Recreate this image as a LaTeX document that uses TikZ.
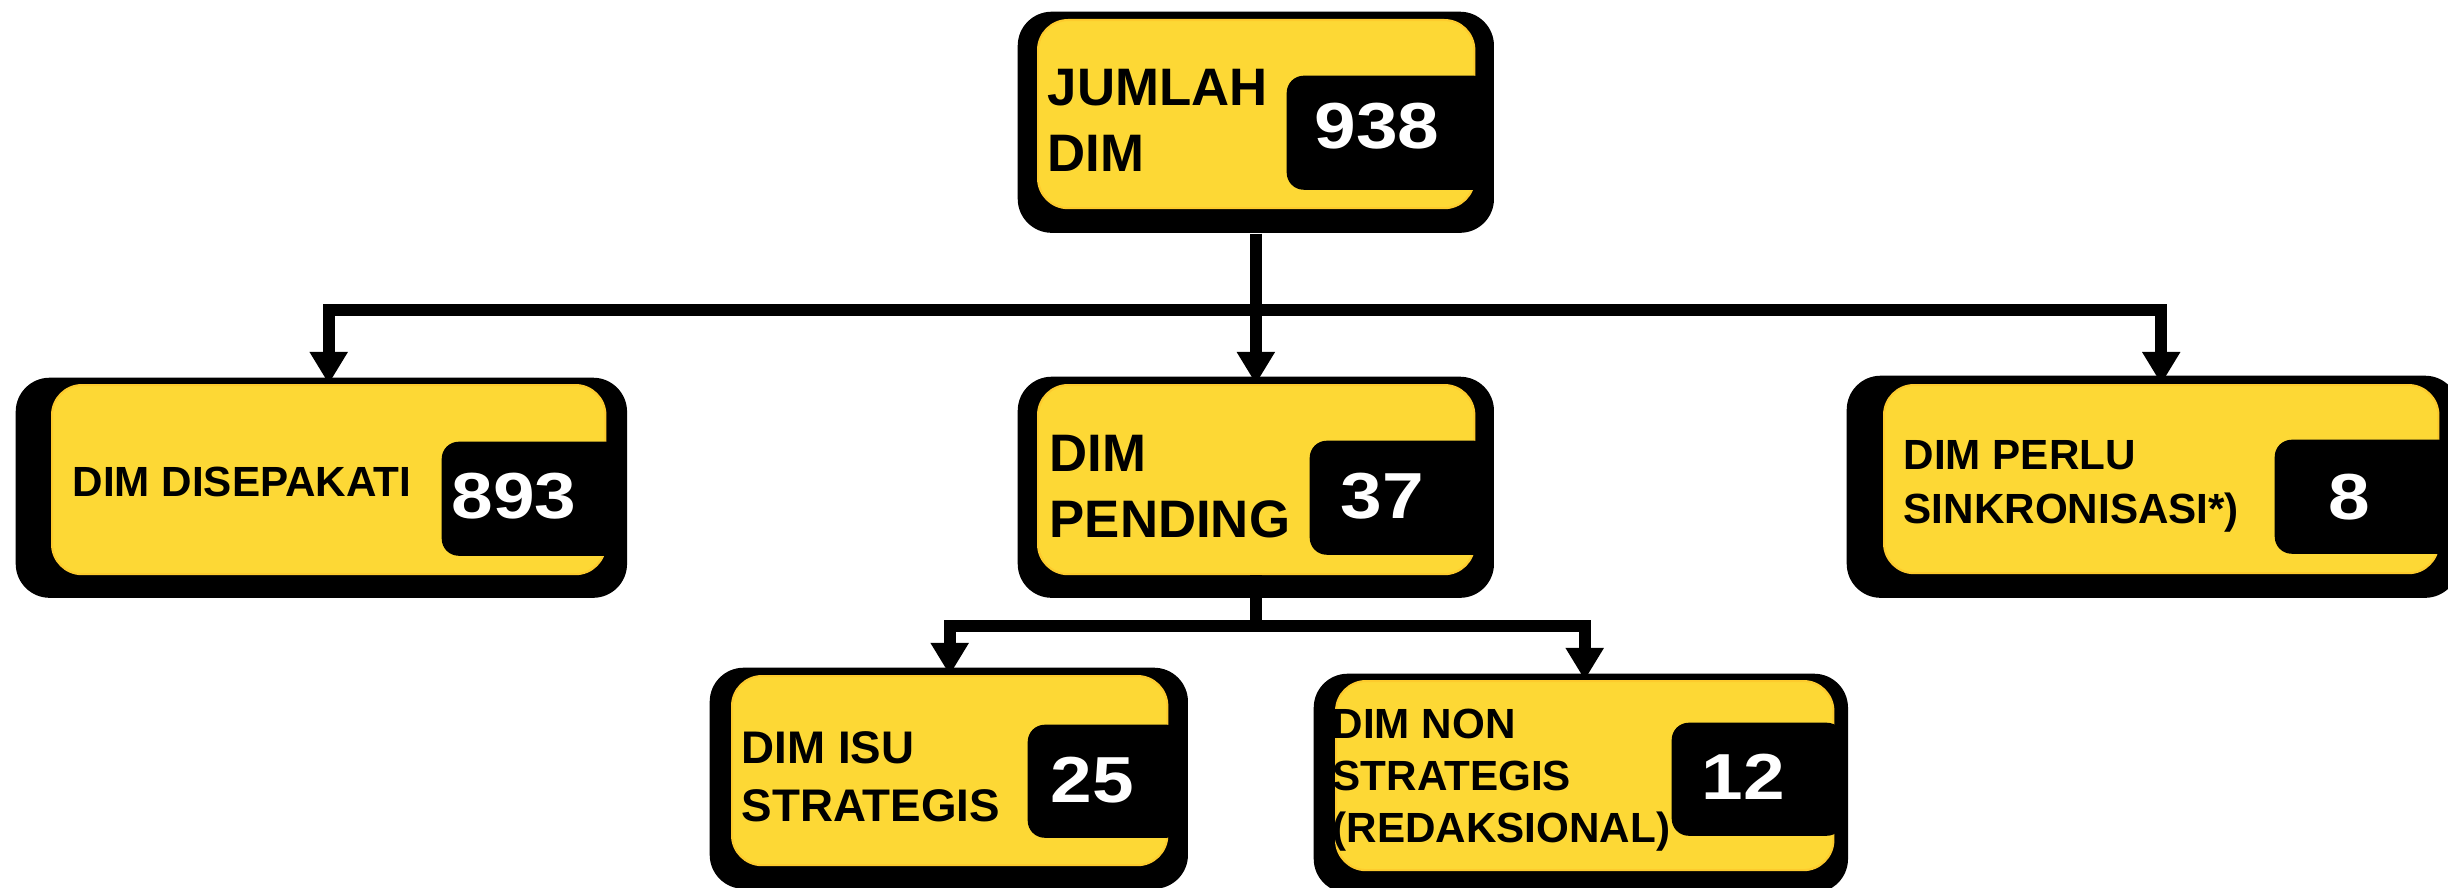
\documentclass[tikz,border=0pt]{standalone}
\usepackage{fontspec}
\setmainfont{Liberation Sans}
\newfontfamily\numfont[FakeStretch=1.15]{Liberation Sans}
\usepackage{xcolor}
\definecolor{kuning}{HTML}{FDD835}
\usepackage{tikz}
\usetikzlibrary{arrows.meta}

\begin{document}
\begin{tikzpicture}[
  x=0.01cm, y=-0.01cm,
  kotak/.style={rectangle, rounded corners=0.34cm, fill=black, inner sep=0pt, anchor=north west},
  dalam/.style={rectangle, rounded corners=0.3cm, fill=kuning, draw=kuning!85!orange, line width=0.6pt, inner sep=0pt, anchor=north west},
  blok/.style={rectangle, rounded corners=0.17cm, fill=black, inner sep=0pt, anchor=north west},
  teks/.style={anchor=west, align=left, inner sep=0pt},
  angka/.style={text=white, inner sep=0pt, font=\numfont\fontsize{18.5}{20}\selectfont\bfseries},
  garis/.style={line width=0.12cm},
  panah/.style={garis, -{Triangle[length=0.32cm, width=0.36cm]}}
]
\useasboundingbox (0,0) rectangle (2448,888);
\node[kotak, minimum width=4.76cm, minimum height=2.21cm] (jml) at (1017,11) {};
\node[dalam, minimum width=4.36cm, minimum height=1.88cm] (jml-in) at (1037,19) {};
\node[blok, minimum width=2.04cm, minimum height=1.14cm] (jml-blok) at (1286,75) {};
\node[teks, font=\fontsize{15}{18.8}\selectfont\bfseries] (jml-txt) at (1047,120.5) {JUMLAH\\DIM};
\node[angka] (jml-num) at (1377,126) {938};
\node[kotak, minimum width=6.11cm, minimum height=2.20cm] (spk) at (15,377) {};
\node[dalam, minimum width=5.53cm, minimum height=1.89cm] (spk-in) at (51,384) {};
\node[blok, minimum width=1.81cm, minimum height=1.14cm] (spk-blok) at (441,441) {};
\node[teks, font=\fontsize{12}{14.5}\selectfont\bfseries] (spk-txt) at (72,481.5) {DIM DISEPAKATI};
\node[angka] (spk-num) at (514,496) {893};
\node[kotak, minimum width=4.76cm, minimum height=2.21cm] (pdg) at (1017,376) {};
\node[dalam, minimum width=4.36cm, minimum height=1.89cm] (pdg-in) at (1037,384) {};
\node[blok, minimum width=1.81cm, minimum height=1.14cm] (pdg-blok) at (1309,440) {};
\node[teks, font=\fontsize{15}{18.8}\selectfont\bfseries] (pdg-txt) at (1049,486.5) {DIM\\PENDING};
\node[angka] (pdg-num) at (1382,496) {37};
\node[kotak, minimum width=6.12cm, minimum height=2.22cm] (snk) at (1846,375) {};
\node[dalam, minimum width=5.54cm, minimum height=1.88cm] (snk-in) at (1883,384) {};
\node[blok, minimum width=1.81cm, minimum height=1.14cm] (snk-blok) at (2274,439) {};
\node[teks, font=\fontsize{12}{15.4}\selectfont\bfseries] (snk-txt) at (1903,486) {DIM PERLU\\SINKRONISASI*)};
\node[angka] (snk-num) at (2349,497) {8};
\node[kotak, minimum width=4.78cm, minimum height=2.21cm] (isu) at (709,667) {};
\node[dalam, minimum width=4.35cm, minimum height=1.89cm] (isu-in) at (731,675) {};
\node[blok, minimum width=1.56cm, minimum height=1.13cm] (isu-blok) at (1027,724) {};
\node[teks, font=\fontsize{13}{16.5}\selectfont\bfseries] (isu-txt) at (741,777) {DIM ISU\\STRATEGIS};
\node[angka] (isu-num) at (1092,780) {25};
\node[kotak, minimum width=5.34cm, minimum height=2.19cm] (red) at (1313,673) {};
\node[dalam, minimum width=4.97cm, minimum height=1.89cm] (red-in) at (1335,680) {};
\node[blok, minimum width=1.72cm, minimum height=1.13cm] (red-blok) at (1671,722) {};
\node[teks, font=\fontsize{12}{14.8}\selectfont\bfseries] (red-txt) at (1332,780) {DIM NON\\STRATEGIS\\(REDAKSIONAL)};
\node[angka] (red-num) at (1743,777) {12};
\path (jml.south) ++(0,76) coordinate (atas);
\path (pdg-in.south) ++(0,51) coordinate (bawah);
\draw[garis] (jml.south) -- (atas);
\draw[panah] (atas) -| (spk-in.north);
\draw[panah] (atas) -- (atas |- pdg-in.north);
\draw[panah] (atas) -| (snk-in.north);
\draw[garis] (pdg-in.south) -- (bawah);
\draw[panah] (bawah) -| (isu-in.north);
\draw[panah] (bawah) -| (red-in.north);
\end{tikzpicture}
\end{document}
